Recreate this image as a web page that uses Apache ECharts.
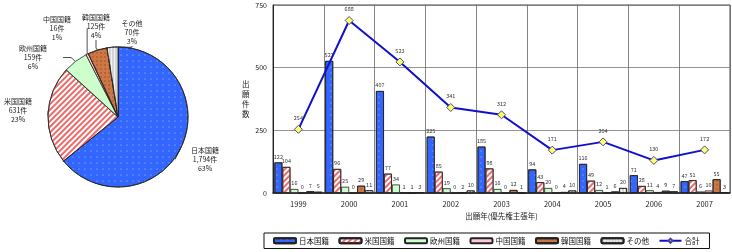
<!DOCTYPE html>
<html>
<head>
<meta charset="utf-8">
<script src="https://cdn.jsdelivr.net/npm/echarts@6/dist/echarts.min.js"></script>
<style>
  html, body { margin: 0; padding: 0; background: #fff; }
  #chart { width: 732px; height: 252px; }
</style>
</head>
<body>
<div id="chart"></div>
<script>
// 出願年
var years = ['1999', '2000', '2001', '2002', '2003', '2004', '2005', '2006', '2007']
var seriesNames = ['日本国籍', '米国国籍', '欧州国籍', '中国国籍', '韓国国籍', 'その他']
var japan = [122, 527, 407, 225, 185, 94, 116, 71, 47]
var usa = [104, 96, 77, 85, 98, 43, 49, 28, 51]
var europe = [16, 25, 34, 19, 16, 20, 12, 11, 6]
var china = [0, 0, 1, 0, 0, 0, 1, 4, 10]
var korea = [7, 29, 1, 2, 12, 4, 6, 9, 55]
var other = [5, 11, 3, 10, 1, 10, 20, 7, 3]
var total = [254, 688, 523, 341, 312, 171, 204, 130, 172]
// 円グラフ（合計）
var pieValues = [1794, 631, 159, 16, 125, 70]
var pieShares = ['63%', '23%', '6%', '1%', '4%', '3%']
var yTicks = [0, 250, 500, 750]

var FONT = '"Noto Sans CJK JP", sans-serif'

var styles = [
  { color: '#3366FF', decal: { symbol: 'circle', symbolSize: 0.5, color: 'rgba(255,255,255,0.8)', dashArrayX: [2, 4], dashArrayY: [2, 4] } },
  { color: '#FFFFFF', decal: { symbol: 'rect', symbolSize: 1, color: 'rgba(235,90,90,0.9)', dashArrayX: [1, 0], dashArrayY: [1.5, 1.5], rotation: -Math.PI / 4 } },
  { color: '#CCFFCC' },
  { color: '#FFC8D8' },
  { color: '#CC7744', decal: { symbol: 'rect', symbolSize: 0.6, color: 'rgba(110,40,10,0.7)', dashArrayX: [2, 2], dashArrayY: [2, 2] } },
  { color: '#D4D4D4', decal: { symbol: 'rect', symbolSize: 1, color: 'rgba(255,255,255,0.7)', dashArrayX: [1, 2], dashArrayY: [1, 0] } }
]
var barData = [japan, usa, europe, china, korea, other]

// ラベル位置（円グラフ）
var pieLabelPos = [
  [205, 146], [18, 97], [33, 44], [57, 15], [96, 13], [132, 19]
]

var chart = echarts.init(document.getElementById('chart'))

var series = barData.map(function (d, i) {
  return {
    name: seriesNames[i],
    type: 'bar',
    data: d,
    barWidth: 8,
    barGap: '0%',
    itemStyle: {
      color: styles[i].color,
      decal: styles[i].decal,
      borderColor: '#222',
      borderWidth: 0.8
    },
    label: {
      show: true,
      position: 'top',
      distance: 3,
      fontSize: 5.5,
      color: '#333',
      fontFamily: FONT
    }
  }
})

series.push({
  name: '合計',
  type: 'line',
  data: total,
  symbol: 'diamond',
  symbolSize: 8,
  lineStyle: { color: '#1010CC', width: 2 },
  itemStyle: { color: '#FFFF66', borderColor: '#444499', borderWidth: 1 },
  label: {
    show: true,
    position: 'top',
    distance: 4,
    fontSize: 5.5,
    color: '#333',
    fontFamily: FONT
  },
  z: 5
})

series.push({
  type: 'pie',
  center: [118, 117],
  radius: 70,
  startAngle: 90,
  clockwise: true,
  label: {
    show: true,
    fontSize: 7,
    lineHeight: 9,
    color: '#222',
    fontFamily: FONT,
    align: 'center',
    overflow: 'none',
    width: 60,
    formatter: function (p) {
      return p.name + '\n' + p.value.toLocaleString('en-US') + '件\n' + pieShares[p.dataIndex]
    }
  },
  labelLine: {
    show: true,
    length: 6,
    length2: 8,
    lineStyle: { color: '#222', width: 0.8 }
  },
  labelLayout: function (p) {
    var pos = pieLabelPos[p.dataIndex]
    return { x: pos[0], y: pos[1], align: 'center', verticalAlign: 'top' }
  },
  itemStyle: { borderColor: '#222', borderWidth: 0.8 },
  data: pieValues.map(function (v, i) {
    return {
      name: seriesNames[i],
      value: v,
      itemStyle: { color: styles[i].color, decal: styles[i].decal }
    }
  })
})

chart.setOption({
  animation: false,
  textStyle: { fontFamily: FONT },
  grid: {
    left: 273,
    right: 2,
    top: 5,
    bottom: 59,
    show: true,
    borderColor: '#444',
    borderWidth: 1
  },
  legend: {
    data: seriesNames.concat(['合計']),
    left: 264,
    top: 233,
    width: 449,
    padding: [4, 10, 4, 9],
    itemWidth: 22,
    itemHeight: 5,
    itemGap: 9.5,
    borderColor: '#111',
    borderWidth: 1,
    textStyle: { fontSize: 7.5, color: '#111', fontFamily: FONT, padding: [0, 0, 0, -2] }
  },
  xAxis: {
    type: 'category',
    data: years,
    name: '出願年(優先権主張年)',
    nameLocation: 'middle',
    nameGap: 19,
    nameTextStyle: { fontSize: 7.5, color: '#222' },
    axisLine: { lineStyle: { color: '#222', width: 1.5 } },
    axisTick: { show: false },
    axisLabel: { fontSize: 7.5, color: '#222', margin: 7 },
    splitLine: { show: true, interval: 0, lineStyle: { color: '#666', width: 0.8 } }
  },
  yAxis: {
    type: 'value',
    min: yTicks[0],
    max: yTicks[yTicks.length - 1],
    interval: 250,
    name: '出\n願\n件\n数',
    nameLocation: 'middle',
    nameRotate: 0,
    nameGap: 15,
    nameTextStyle: { fontSize: 7.5, color: '#222', lineHeight: 10 },
    axisLine: { show: true, lineStyle: { color: '#222', width: 1 } },
    axisTick: { show: false },
    axisLabel: { fontSize: 7, color: '#222', margin: 6 },
    splitLine: { lineStyle: { color: '#777', width: 0.8 } }
  },
  series: series
})
</script>
</body>
</html>
